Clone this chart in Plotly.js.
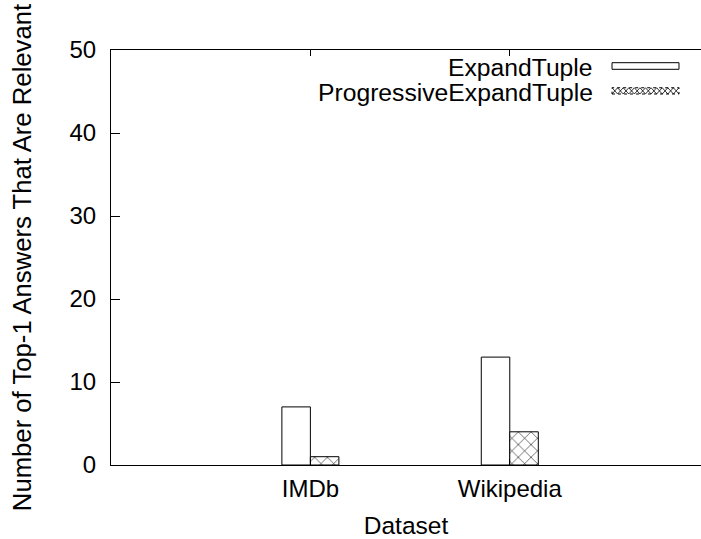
<!DOCTYPE html>
<html>
<head>
<meta charset="utf-8">
<script src="https://cdn.plot.ly/plotly-3.0.1.min.js"></script>
<style>
  html, body { margin: 0; padding: 0; background: #fff; }
  #chart { width: 701px; height: 539px; }
</style>
</head>
<body>
<div id="chart"></div>
<script>
// ---- data ----
const categories = ["IMDb", "Wikipedia"];
const categoryPositions = [1, 2];
const seriesNames = ["ExpandTuple", "ProgressiveExpandTuple"];
const expandTuple = [7, 13];
const progressiveExpandTuple = [1, 4];
const yTickValues = [0, 10, 20, 30, 40, 50];

// ---- styling ----
const FONT = "Liberation Sans, Arial, Helvetica, sans-serif";
const FS = 24;
const barWidth = 0.143;

const traces = [
  {
    type: "bar",
    name: seriesNames[0],
    x: categoryPositions,
    y: expandTuple,
    width: barWidth,
    offset: -barWidth,
    marker: { color: "#ffffff", line: { color: "#000000", width: 1 } },
    showlegend: false,
    hoverinfo: "skip"
  },
  {
    type: "bar",
    name: seriesNames[1],
    x: categoryPositions,
    y: progressiveExpandTuple,
    width: barWidth,
    offset: 0,
    marker: {
      color: "#ffffff",
      line: { color: "#000000", width: 1 },
      pattern: { shape: "x", size: 9, solidity: 0.12, fgcolor: "#000000", bgcolor: "#ffffff" }
    },
    showlegend: false,
    hoverinfo: "skip"
  }
];

// legend (gnuplot style: text right-aligned, swatch to the right)
const legX = 0.8203;            // text right edge (paper)
const swX0 = 0.8492, swX1 = 0.9627;
const rows = [
  { y0: 0.9535, y1: 0.9694, ty: 0.9580 },
  { y0: 0.8940, y1: 0.9090, ty: 0.8975 }
];

function crossPath(x0, x1, y0, y1, n) {
  const p = (x1 - x0) / n;
  let a = "M" + x0 + "," + y1, b = "M" + x0 + "," + y0;
  for (let i = 0; i < n; i++) {
    const xm = x0 + p * (i + 0.5), xe = x0 + p * (i + 1);
    a += " L" + xm + "," + y0 + " L" + xe + "," + y1;
    b += " L" + xm + "," + y1 + " L" + xe + "," + y0;
  }
  return a + " " + b;
}

const annotations = seriesNames.map((s, i) => ({
  text: s, xref: "paper", yref: "paper", x: legX, y: rows[i].ty,
  xanchor: "right", yanchor: "middle", showarrow: false,
  font: { family: FONT, size: 24.7, color: "#000" }
}));

const shapes = [
  { type: "rect", xref: "paper", yref: "paper", x0: swX0, x1: swX1, y0: rows[0].y0, y1: rows[0].y1,
    line: { color: "#000", width: 1 }, fillcolor: "#fff" },
  { type: "rect", xref: "paper", yref: "paper", x0: swX0, x1: swX1, y0: rows[1].y0, y1: rows[1].y1,
    line: { color: "#000", width: 1, dash: "dot" }, fillcolor: "#fff" },
  { type: "path", xref: "paper", yref: "paper", path: crossPath(swX0, swX1, rows[1].y0, rows[1].y1, 6),
    line: { color: "#000", width: 0.8 } }
];

const layout = {
  width: 701,
  height: 539,
  margin: { l: 111, r: 0, t: 50, b: 74, pad: 0 },
  paper_bgcolor: "#ffffff",
  plot_bgcolor: "#ffffff",
  font: { family: FONT, size: FS, color: "#000" },
  barmode: "overlay",
  showlegend: false,
  xaxis: {
    range: [0, 2.959],
    tickvals: categoryPositions,
    ticktext: categories,
    ticks: "inside",
    ticklen: 6,
    tickcolor: "#000",
    showline: true,
    linecolor: "#000",
    linewidth: 1,
    mirror: "ticks",
    showgrid: false,
    zeroline: false,
    tickfont: { family: FONT, size: FS, color: "#000" },
    ticklabelstandoff: 2,
    title: { text: "Dataset", font: { family: FONT, size: 24.5, color: "#000" }, standoff: 16 },
    automargin: false
  },
  yaxis: {
    range: [0, 50],
    tickvals: yTickValues,
    ticks: "inside",
    ticklen: 9,
    tickcolor: "#000",
    showline: true,
    linecolor: "#000",
    linewidth: 1,
    mirror: false,
    showgrid: false,
    zeroline: false,
    tickfont: { family: FONT, size: FS, color: "#000" },
    ticklabelstandoff: 9,
    title: { text: "Number of Top-1 Answers That Are Relevant", font: { family: FONT, size: 25.7, color: "#000" }, standoff: 30 },
    automargin: false
  },
  annotations: annotations,
  shapes: shapes
};

Plotly.newPlot("chart", traces, layout, { displayModeBar: false, staticPlot: true });
</script>
</body>
</html>
